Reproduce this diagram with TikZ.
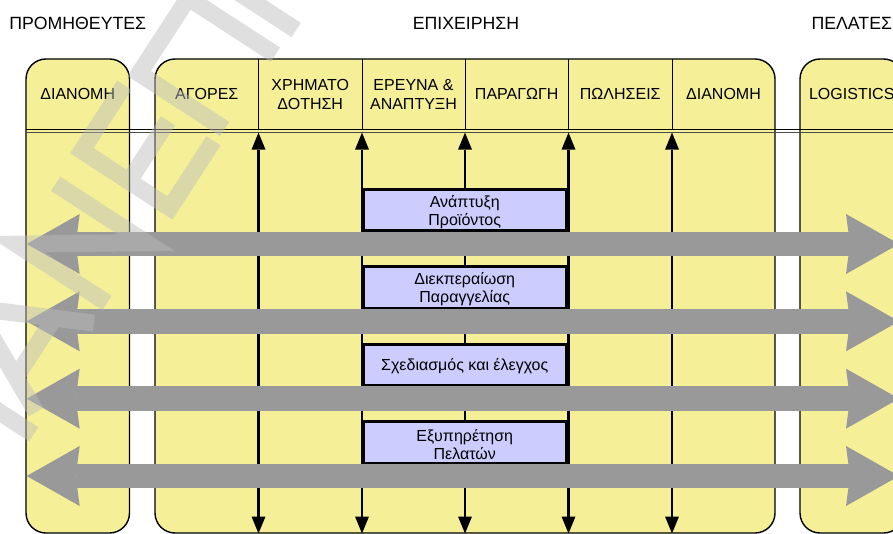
\documentclass[tikz,border=0pt]{standalone}
\usepackage{fontspec}
\setmainfont{Liberation Sans}
\usetikzlibrary{arrows.meta}

\definecolor{laneyellow}{RGB}{245,240,152}
\definecolor{procblue}{RGB}{204,204,255}
\definecolor{flowgray}{RGB}{153,153,153}
\definecolor{markgray}{RGB}{189,189,189}

\begin{document}
\begin{tikzpicture}[x=1pt, y=-1pt,
  lane/.style={draw=black, line width=1.4pt, fill=laneyellow, rounded corners=20pt,
    minimum width=103.5pt, minimum height=474pt, inner sep=0pt},
  title/.style={font=\fontsize{17.7}{20}\selectfont, anchor=base, inner sep=0pt},
  head/.style={font=\fontsize{16}{19}\selectfont, align=center, inner sep=0pt},
  proc/.style={draw=black, line width=3.3pt, fill=procblue, minimum width=203.5pt,
    minimum height=41.5pt, inner sep=0pt},
  proctext/.style={inner sep=0pt, align=center, font=\fontsize{16}{18}\selectfont},
  vtip/.tip={Triangle[length=17pt, width=14pt, line width=0pt]},
  htip/.tip={Stealth[length=53pt, width=60pt, inset=4pt, line width=0pt]},
  vflow/.style={line width=2.6pt, vtip-vtip},
  hflow/.style={draw=flowgray, line width=24.5pt, htip-htip},
  wmstroke/.style={draw=markgray, draw opacity=0.47, line width=17pt, line join=miter, line cap=butt},
]
\useasboundingbox (0,0) rectangle (893,534);
\fill[white] (0,0) rectangle (893,534);
\clip (0,0) rectangle (893,534);

% swimlanes
\node[lane] (supp) at (77.75,296) {};
\node[lane, minimum width=620pt] (biz) at (465,296) {};
\node[lane] (cust) at (851.75,296) {};

% column dividers in the header band
\foreach \x in {258.5,362,465,568.5,672}
  \draw[line width=1pt] (\x,59) -- (\x,129.5);

% double rule under the headers
\draw[line width=1.1pt] (26,129.5) -- (893,129.5);
\draw[line width=0.9pt, black!70] (26,132.6) -- (893,132.6);

% titles
\node[title] (tsupp) at (77.75,29.3) {ΠΡΟΜΗΘΕΥΤΕΣ};
\node[title] (tbiz) at (466,29.3) {ΕΠΙΧΕΙΡΗΣΗ};
\node[title] (tcust) at (851.75,29.3) {ΠΕΛΑΤΕΣ};

% column headers
\node[head] (hsupp) at (77.75,94.3) {ΔΙΑΝΟΜΗ};
\node[head] (h1) at (206.75,94.3) {ΑΓΟΡΕΣ};
\node[head] (h2) at (310.25,94.3) {ΧΡΗΜΑΤΟ\\ΔΟΤΗΣΗ};
\node[head] (h3) at (413.5,94.3) {ΕΡΕΥΝΑ \&\\ΑΝΑΠΤΥΞΗ};
\node[head] (h4) at (516.75,94.3) {ΠΑΡΑΓΩΓΗ};
\node[head] (h5) at (620.25,94.3) {ΠΩΛΗΣΕΙΣ};
\node[head] (h6) at (723.5,94.3) {ΔΙΑΝΟΜΗ};
\node[head] (hcust) at (851.75,94.3) {LOGISTICS};

% vertical flows along the column borders
\foreach \x [count=\i] in {258.5,362,465,568.5,672} {
  \coordinate (vt\i) at (\x,132.6);
  \coordinate (vb\i) at (\x,533.5);
  \draw[vflow] (vb\i) -- (vt\i);
}

% processes
\node[proc] (p1) at (464.75,210) {};
\node[proc] (p2) at (464.75,287.5) {};
\node[proc] (p3) at (464.75,365) {};
\node[proc] (p4) at (464.75,442.5) {};
\node[proctext] (p1t) at ([yshift=-2pt]p1.center) {Ανάπτυξη\\Προϊόντος};
\node[proctext] (p2t) at ([yshift=-2pt]p2.center) {Διεκπεραίωση\\Παραγγελίας};
\node[proctext] (p3t) at ([yshift=-1.5pt]p3.center) {Σχεδιασμός και έλεγχος};
\node[proctext] (p4t) at ([yshift=-2pt]p4.center) {Εξυπηρέτηση\\Πελατών};

% horizontal flows from suppliers to customers
\foreach \y [count=\i] in {244,321.33,398.67,476} {
  \coordinate (fl\i) at (26.7,\y);
  \coordinate (fr\i) at (899,\y);
  \draw[hflow] (fl\i) -- (fr\i);
}

% diagonal watermark lettering
\begin{scope}[shift={(107pt,-303pt)}, x={(0.5446pt,0.8387pt)}, y={(-0.8387pt,0.5446pt)}]
  \draw[wmstroke]
    (-150,-10) -- (-150,110)
    (-130,0) -- (-76,108) -- (-24,0)
    (-112,36) -- (-42,36)
    (0,0) -- (0,108) -- (72,0) -- (72,108)
    (192,104) -- (114,104) -- (114,-1) -- (194,-1)
    (114,48) -- (186,48)
    (210,-4) -- (210,98) -- (300,98) -- (300,-6)
    (332,-10) -- (332,110);
\end{scope}
\end{tikzpicture}
\end{document}
